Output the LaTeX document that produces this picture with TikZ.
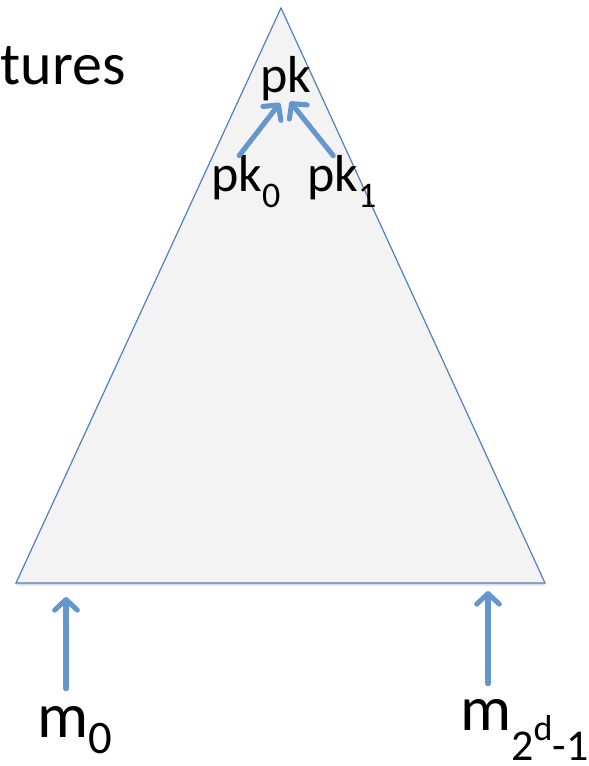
\documentclass[tikz,border=0pt]{standalone}
\usepackage{fontspec}
\setmainfont{Carlito}
\usetikzlibrary{arrows.meta,shadows}
\definecolor{treeblue}{RGB}{79,129,189}
\definecolor{arrowblue}{RGB}{101,151,206}
\definecolor{treefill}{RGB}{243,243,243}

% lowered / raised small text
\newcommand{\lowidx}[3]{\raisebox{-#1}{\fontsize{#2}{#2}\selectfont #3}}

\begin{document}
\begin{tikzpicture}[x=0.75pt, y=-0.75pt,
    lbl/.style={inner sep=0pt, text=black},
    arr/.style={arrowblue, line width=3.8pt, line cap=round,
        -{Straight Barb[length=8pt, width=17pt, round]}},
    tree/.style={treeblue, line width=0.9pt, fill=treefill,
        drop shadow={opacity=0.25, shadow xshift=0pt, shadow yshift=-2pt}}]
    \useasboundingbox (0,0) rectangle (588,766);

    % Tree (the big triangle)
    \coordinate (top) at (281,8);
    \coordinate (bl) at (16,583);
    \coordinate (br) at (545,583);
    \draw[tree] (top) -- (br) -- (bl) -- cycle;

    % Title, cut off
    \node[lbl, anchor=base east, font=\fontsize{45}{50}\selectfont] (title) at (126,85) {tures};

    % Keys
    \node[lbl, anchor=base, font=\fontsize{39}{44}\selectfont] (pk) at (286,93) {pk};
    \node[lbl, anchor=base west, font=\fontsize{39}{44}\selectfont] (pk0) at (211,192) {pk\lowidx{12pt}{27}{0}};
    \node[lbl, anchor=base west, font=\fontsize{39}{44}\selectfont] (pk1) at (307,192) {pk\lowidx{12pt}{27}{1}};

    \draw[arr] ([xshift=-5pt]pk0.north) -- ([xshift=-4.5pt, yshift=-1pt]pk.south);
    \draw[arr] ([xshift=-6.5pt]pk1.north) -- ([xshift=3pt]pk.south);

    % Messages at the leaves
    \node[lbl, anchor=base west, font=\fontsize{48}{54}\selectfont] (m0) at (37,737) {m\lowidx{12.5pt}{35}{0}};
    \node[lbl, anchor=base west, font=\fontsize{48}{54}\selectfont] (mlast) at (460,730)
        {m\lowidx{23pt}{33}{2\raisebox{15pt}{\fontsize{27}{27}\selectfont d}-1}};

    \coordinate (leaf0) at (66,597);
    \coordinate (leaflast) at (488,591);
    \draw[arr] (leaf0 |- m0.north) ++(0,-17) -- (leaf0);
    \draw[arr] (leaflast |- mlast.north) ++(0,-15) -- (leaflast);
\end{tikzpicture}
\end{document}
